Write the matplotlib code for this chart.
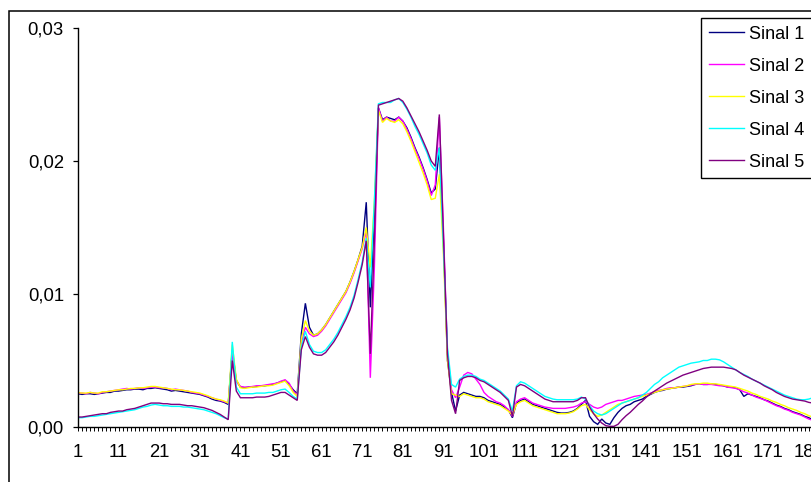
import matplotlib
matplotlib.use("Agg")
import matplotlib.pyplot as plt
from matplotlib.patches import Rectangle
from matplotlib.ticker import FixedLocator, FuncFormatter, MultipleLocator

plt.rcParams['font.family'] = ['Liberation Sans', 'DejaVu Sans']

# Signal amplitudes per sample (units of 1e-3)
sinal_1 = [
    2.5, 2.45, 2.5, 2.5, 2.45, 2.5, 2.55, 2.6, 2.6, 2.7, 2.7, 2.75, 2.8, 2.8, 2.85,
    2.85, 2.8, 2.9, 2.9, 2.95, 2.9, 2.85, 2.8, 2.7, 2.75, 2.7, 2.65, 2.6, 2.55, 2.5,
    2.45, 2.35, 2.25, 2.1, 2.0, 1.95, 1.85, 1.7,
    5.8, 3.5,
    3.0, 2.95, 3.0, 3.0, 3.05, 3.1, 3.1, 3.15, 3.2, 3.3, 3.4, 3.5, 3.2, 2.8, 2.5,
    7.0, 9.3, 7.5, 6.9, 7.0, 7.3, 7.7, 8.2, 8.7, 9.2, 9.7, 10.2, 10.9, 11.7, 12.6,
    13.6, 16.9,
    9.0, 16.0,
    24.0, 23.1, 23.3, 23.2, 23.1, 23.3, 23.0, 22.5, 21.8, 21.0, 20.3, 19.5, 18.6,
    17.6, 17.9, 21.0,
    14.0, 5.0, 2.6, 1.2,
    2.4, 2.6, 2.5, 2.4, 2.3, 2.3, 2.2, 2.0, 1.9, 1.8, 1.7, 1.5, 1.3, 0.7, 1.8,
    2.0, 2.1, 1.9, 1.7, 1.6, 1.5, 1.4, 1.3, 1.2, 1.1, 1.05, 1.05, 1.1, 1.2, 1.4, 1.7,
    2.0, 0.8, 0.4, 0.2, 0.6, 0.3, 0.2, 0.7, 1.1, 1.4, 1.6, 1.7, 1.9, 2.0, 2.1,
    2.3, 2.45, 2.6, 2.7, 2.75, 2.85, 2.9, 2.95, 3.0, 3.0, 3.05, 3.1, 3.2, 3.25, 3.2,
    3.2, 3.25, 3.2, 3.15, 3.1, 3.0, 3.0, 2.95, 2.8, 2.3, 2.5, 2.4, 2.3, 2.2, 2.05,
    1.95, 1.8, 1.65, 1.55, 1.4, 1.3, 1.15, 1.05, 0.95, 0.8, 0.7, 0.55, 0.5, 0.45,
]

sinal_2 = [
    2.55, 2.55, 2.5, 2.6, 2.55, 2.5, 2.6, 2.65, 2.7, 2.75, 2.8, 2.85, 2.9, 2.85, 2.9,
    2.95, 2.9, 2.95, 3.0, 3.0, 2.95, 2.95, 2.9, 2.8, 2.85, 2.8, 2.75, 2.7, 2.6, 2.55,
    2.5, 2.4, 2.3, 2.2, 2.1, 2.0, 1.9, 1.8,
    5.6, 3.4,
    3.05, 3.0, 3.0, 3.05, 3.1, 3.1, 3.15, 3.2, 3.25, 3.3, 3.45, 3.55, 3.3, 2.7, 2.4,
    6.3, 7.5, 7.0, 6.8, 6.9, 7.2, 7.6, 8.1, 8.6, 9.1, 9.6, 10.1, 10.8, 11.6, 12.5,
    13.4, 14.8,
    3.7, 12.0,
    24.0, 23.0, 23.3, 23.0, 23.0, 23.3, 23.0, 22.4, 21.7, 20.9, 20.2, 19.4, 18.5,
    17.4, 18.2, 23.3,
    15.0, 5.5, 2.8, 2.2,
    3.0, 3.9, 4.1, 4.0, 3.6, 3.2, 2.6, 2.3, 2.1, 1.9, 1.8, 1.6, 1.3, 0.8, 1.9,
    2.1, 2.2, 2.0, 1.8, 1.7, 1.6, 1.5, 1.45, 1.4, 1.4, 1.4, 1.4, 1.45, 1.5, 1.6, 1.8,
    1.9, 1.7, 1.5, 1.4, 1.5, 1.7, 1.8, 1.9, 2.0, 2.0, 2.1, 2.2, 2.3, 2.35, 2.4,
    2.45, 2.55, 2.65, 2.75, 2.8, 2.9, 2.95, 2.95, 3.0, 3.05, 3.1, 3.15, 3.2, 3.25, 3.2,
    3.2, 3.2, 3.15, 3.1, 3.1, 3.0, 2.95, 2.9, 2.8, 2.65, 2.55, 2.4, 2.25, 2.15, 2.05,
    1.9, 1.75, 1.6, 1.5, 1.35, 1.25, 1.1, 1.0, 0.9, 0.75, 0.6, 0.5, 0.45, 0.4,
]

sinal_3 = [
    2.6, 2.55, 2.55, 2.6, 2.55, 2.55, 2.65, 2.65, 2.7, 2.75, 2.8, 2.8, 2.85, 2.9, 2.9,
    2.95, 2.95, 3.0, 3.05, 3.05, 3.0, 2.95, 2.9, 2.85, 2.8, 2.8, 2.75, 2.7, 2.65, 2.6,
    2.55, 2.45, 2.35, 2.2, 2.1, 2.05, 1.95, 1.8,
    6.2, 3.6,
    2.95, 2.9, 2.95, 3.0, 3.0, 3.05, 3.1, 3.1, 3.15, 3.25, 3.35, 3.45, 3.1, 2.6, 2.3,
    6.6, 8.0, 7.2, 6.9, 7.0, 7.3, 7.7, 8.2, 8.7, 9.2, 9.7, 10.2, 10.9, 11.7, 12.6,
    13.5, 15.0,
    12.0, 17.0,
    23.8, 22.9, 23.2, 23.0, 22.9, 23.1, 22.8, 22.2, 21.5, 20.7, 19.9, 19.1, 18.2,
    17.1, 17.2, 19.0,
    13.0, 5.0, 2.5, 2.4,
    2.3, 2.5, 2.4, 2.3, 2.2, 2.2, 2.1, 1.9, 1.8, 1.7, 1.6, 1.4, 1.2, 0.9, 1.7,
    1.9, 2.0, 1.8, 1.6, 1.5, 1.4, 1.3, 1.2, 1.1, 1.0, 1.0, 1.0, 1.05, 1.15, 1.35, 1.6,
    1.7, 1.3, 1.0, 0.8, 0.9, 1.1, 1.3, 1.5, 1.7, 1.8, 1.9, 2.0, 2.1, 2.2, 2.3,
    2.4, 2.5, 2.6, 2.7, 2.8, 2.85, 2.9, 2.95, 3.0, 3.05, 3.1, 3.2, 3.25, 3.25, 3.3,
    3.3, 3.25, 3.25, 3.2, 3.15, 3.1, 3.05, 3.0, 2.9, 2.8, 2.7, 2.55, 2.45, 2.3, 2.2,
    2.1, 1.95, 1.85, 1.7, 1.6, 1.45, 1.35, 1.25, 1.1, 1.0, 0.85, 0.75, 0.65, 0.6,
]

sinal_4 = [
    0.7, 0.7, 0.75, 0.8, 0.8, 0.85, 0.9, 0.95, 1.0, 1.05, 1.1, 1.15, 1.2, 1.25, 1.3,
    1.4, 1.5, 1.55, 1.65, 1.7, 1.65, 1.6, 1.6, 1.55, 1.55, 1.55, 1.5, 1.5, 1.45, 1.4,
    1.35, 1.3, 1.2, 1.1, 1.0, 0.85, 0.7, 0.6,
    6.4, 3.0,
    2.5, 2.5, 2.5, 2.5, 2.55, 2.55, 2.55, 2.6, 2.6, 2.7, 2.8, 2.85, 2.6, 2.3, 2.1,
    6.0, 7.2, 6.2, 5.7, 5.6, 5.6, 5.8, 6.2, 6.6, 7.1, 7.7, 8.3, 9.0, 9.9, 11.1,
    12.4, 14.2,
    10.5, 17.0,
    24.3, 24.4, 24.4, 24.4, 24.6, 24.7, 24.4, 23.9, 23.3, 22.6, 22.0, 21.3, 20.6,
    19.7, 19.3, 21.0,
    13.5, 6.0, 3.2, 3.0,
    3.6, 3.8, 3.9, 3.9, 3.8, 3.6, 3.5, 3.3, 3.1, 2.9, 2.7, 2.4, 2.1, 1.2, 3.1,
    3.4, 3.3, 3.1, 2.9, 2.7, 2.5, 2.3, 2.2, 2.1, 2.05, 2.05, 2.05, 2.05, 2.05, 2.1, 2.25,
    2.1, 1.6, 1.2, 1.0, 0.9, 1.0, 1.2, 1.4, 1.6, 1.8, 1.9, 2.0, 2.1, 2.2, 2.4,
    2.6, 2.9, 3.2, 3.4, 3.7, 3.9, 4.1, 4.3, 4.5, 4.6, 4.7, 4.8, 4.85, 4.9, 5.0,
    5.0, 5.1, 5.1, 5.05, 4.9, 4.7, 4.5, 4.3, 4.1, 3.95, 3.8, 3.6, 3.45, 3.3, 3.15,
    3.0, 2.85, 2.7, 2.55, 2.4, 2.3, 2.2, 2.1, 2.05, 2.05, 2.1, 2.2, 2.2, 2.15,
]

sinal_5 = [
    0.75, 0.75, 0.8, 0.85, 0.9, 0.95, 1.0, 1.0, 1.1, 1.15, 1.2, 1.2, 1.3, 1.35, 1.4,
    1.5, 1.6, 1.7, 1.8, 1.8, 1.8, 1.75, 1.75, 1.7, 1.7, 1.7, 1.65, 1.6, 1.6, 1.55,
    1.5, 1.45, 1.35, 1.25, 1.1, 0.95, 0.75, 0.55,
    5.0, 2.7,
    2.2, 2.2, 2.2, 2.2, 2.25, 2.25, 2.25, 2.3, 2.4, 2.5, 2.6, 2.6, 2.4, 2.2, 2.0,
    5.8, 6.8, 6.0, 5.5, 5.4, 5.4, 5.6, 6.0, 6.4, 6.9, 7.5, 8.1, 8.8, 9.7, 10.9,
    12.2, 14.0,
    5.5, 14.0,
    24.2, 24.3, 24.4, 24.5, 24.6, 24.7, 24.5, 24.0, 23.4, 22.8, 22.2, 21.5, 20.8,
    20.0, 19.6, 23.5,
    14.5, 5.5, 2.0, 1.0,
    3.5, 3.7, 3.8, 3.8, 3.7, 3.5, 3.4, 3.2, 3.0, 2.8, 2.6, 2.3, 2.0, 0.8, 3.0,
    3.2, 3.1, 2.9, 2.7, 2.5, 2.3, 2.1, 2.0, 1.9, 1.9, 1.9, 1.9, 1.9, 1.9, 2.0, 2.2,
    2.2, 1.5, 1.0, 0.6, 0.3, 0.1, 0.05, 0.05, 0.2, 0.55, 0.85, 1.1, 1.4, 1.7, 1.95,
    2.25, 2.5, 2.7, 2.9, 3.1, 3.3, 3.45, 3.6, 3.75, 3.9, 4.0, 4.1, 4.2, 4.3, 4.4,
    4.45, 4.5, 4.5, 4.5, 4.5, 4.45, 4.4, 4.3, 4.1, 3.9, 3.75, 3.6, 3.45, 3.3, 3.1,
    2.95, 2.8, 2.6, 2.45, 2.3, 2.2, 2.1, 2.05, 2.0, 1.95, 1.85, 1.8, 1.75, 1.7,
]

series_names = ["Sinal 1", "Sinal 2", "Sinal 3", "Sinal 4", "Sinal 5"]
series_values = [sinal_1, sinal_2, sinal_3, sinal_4, sinal_5]
series_colors = ["#000080", "#FF00FF", "#FFFF00", "#00FFFF", "#800080"]
y_ticks = [0.0, 0.01, 0.02, 0.03]
x_label_step = 10

W, H = 811, 482
fig = plt.figure(figsize=(W / 100, H / 100), dpi=100)

# plot area (extends past the right edge of the canvas)
x_min, x_max = 1, 190
px_per_cat = 4.06
ax_left, ax_top, ax_bottom = 78, 28, 427
ax_width = (x_max - x_min) * px_per_cat
ax = fig.add_axes([ax_left / W, 1 - ax_bottom / H, ax_width / W, (ax_bottom - ax_top) / H])

for name, vals, col in zip(series_names, series_values, series_colors):
    xs = list(range(1, len(vals) + 1))
    ax.plot(xs, [v * 1e-3 for v in vals], color=col, lw=1.0, label=name,
            solid_joinstyle="miter")

ax.set_xlim(x_min, x_max)
ax.set_ylim(0, 0.03)

for side in ("top", "right"):
    ax.spines[side].set_visible(False)
for side in ("left", "bottom"):
    ax.spines[side].set_linewidth(1.0)
    ax.spines[side].set_color("black")

ax.yaxis.set_major_locator(FixedLocator(y_ticks))
ax.yaxis.set_major_formatter(FuncFormatter(lambda v, p: f"{v:.2f}".replace(".", ",")))
ax.tick_params(axis="y", direction="out", length=3.6, width=0.9, pad=6.5,
               labelsize=13.3, colors="black")

ax.xaxis.set_major_locator(FixedLocator(list(range(1, x_max + 1, x_label_step))))
ax.xaxis.set_minor_locator(MultipleLocator(1))
ax.tick_params(axis="x", which="both", direction="out", length=2.9, width=0.7,
               colors="black")
ax.tick_params(axis="x", which="major", pad=9.5, labelsize=13.3)

# chart area border
fig.patches.append(Rectangle((9 / W, -0.2), 2.0, 1.2 - 11 / H, transform=fig.transFigure,
                             fill=False, edgecolor="black", linewidth=1.1))

leg = fig.legend(loc="upper left", bbox_to_anchor=(701 / W, 1 - 18 / H),
                 bbox_transform=fig.transFigure, frameon=True, fancybox=False,
                 edgecolor="black", framealpha=1, borderaxespad=0, fontsize=13,
                 handlelength=1.95, handletextpad=0.3, labelspacing=0.83,
                 borderpad=0.42)
leg.get_frame().set_linewidth(1.0)

fig.savefig("out.png", dpi=100)
